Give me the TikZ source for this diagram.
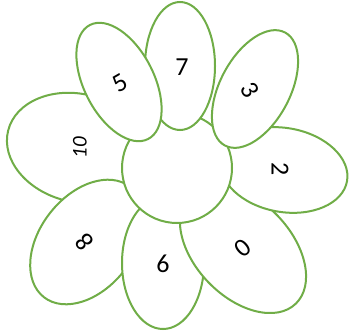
\documentclass[tikz,border=0pt]{standalone}
\usepackage{fontspec}
\setmainfont{Carlito}
\usetikzlibrary{shapes.geometric}
\definecolor{leaf}{RGB}{112,173,71}
\begin{document}
\begin{tikzpicture}[x=1pt,y=1pt,
  petal/.style={ellipse, draw=leaf, line width=2pt, fill=white, inner sep=0pt, outer sep=0pt},
  heart/.style={circle, draw=leaf, line width=2pt, fill=white, inner sep=0pt, outer sep=0pt},
  num/.style={font=\fontsize{26}{26}\selectfont, text=black, inner sep=0pt},
  smallnum/.style={font=\fontsize{21}{21}\selectfont\itshape, text=black, inner sep=0pt}]
\useasboundingbox (0,0) rectangle (350,333);
% petals, back to front
\node[petal, minimum width=144pt, minimum height=108pt, rotate=-14] (p10) at (78,185) {};
\node[petal, minimum width=140pt, minimum height=94pt, rotate=52] (p8) at (87,91) {};
\node[petal, minimum width=82pt, minimum height=132pt] (p6) at (163,70) {};
\node[petal, minimum width=152pt, minimum height=96pt, rotate=-46] (p0) at (243,84) {};
\node[petal, minimum width=128pt, minimum height=84pt, rotate=-10] (p2) at (284,163) {};
\node[heart, minimum size=110pt] (ctr) at (177,165) {};
\node[petal, minimum width=128pt, minimum height=70pt, rotate=62] (p3) at (255,244) {};
\node[petal, minimum width=70pt, minimum height=128pt] (p7) at (180,267) {};
\node[petal, minimum width=128pt, minimum height=70pt, rotate=117] (p5) at (119,251) {};
% labels
\node[num] (l7) at (182,266) {7};
\node[num, rotate=30] (l5) at (120,250) {5};
\node[num, rotate=-60] (l3) at (250,243) {3};
\node[num, rotate=-90] (l2) at (280,164) {2};
\node[num, rotate=-140] (l0) at (243,85) {0};
\node[num] (l6) at (163,69) {6};
\node[num, rotate=130] (l8) at (85,91) {8};
\node[smallnum, rotate=90] (l10) at (80,185) {10};
\end{tikzpicture}
\end{document}
